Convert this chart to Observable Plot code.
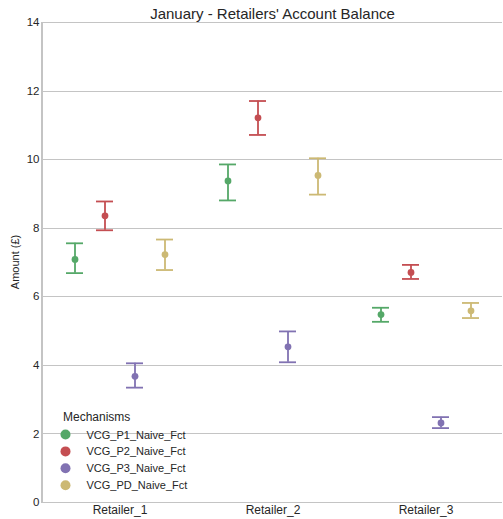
<!DOCTYPE html>
<html><head><meta charset="utf-8">
<script src="https://cdn.jsdelivr.net/npm/d3@7"></script>
<script src="https://cdn.jsdelivr.net/npm/@observablehq/plot@0.6"></script>
<style>
html,body{margin:0;padding:0;background:#fff;}
#wrap{position:relative;width:503px;height:519px;font-family:"Liberation Sans",Arial,sans-serif;}
</style></head>
<body><div id="wrap"></div>
<script>
// ---- data ----
const retailers = ["Retailer_1", "Retailer_2", "Retailer_3"];
const mechanisms = ["VCG_P1_Naive_Fct", "VCG_P2_Naive_Fct", "VCG_P3_Naive_Fct", "VCG_PD_Naive_Fct"];
const colors = ["#55a868", "#c44e52", "#8172b2", "#ccb974"];
// values per mechanism, in retailer order
const meanP1 = [7.09, 9.38, 5.48];
const meanP2 = [8.36, 11.22, 6.71];
const meanP3 = [3.68, 4.54, 2.32];
const meanPD = [7.23, 9.54, 5.59];
const lowP1 = [6.69, 8.81, 5.27];
const lowP2 = [7.94, 10.72, 6.52];
const lowP3 = [3.35, 4.09, 2.17];
const lowPD = [6.78, 8.98, 5.38];
const highP1 = [7.56, 9.86, 5.68];
const highP2 = [8.78, 11.71, 6.93];
const highP3 = [4.06, 4.99, 2.49];
const highPD = [7.67, 10.04, 5.82];
const yTicks = [0, 2, 4, 6, 8, 10, 12, 14];
const title = "January - Retailers' Account Balance";
const yLabel = "Amount (£)";
const legendTitle = "Mechanisms";

const means = [meanP1, meanP2, meanP3, meanPD];
const lows = [lowP1, lowP2, lowP3, lowPD];
const highs = [highP1, highP2, highP3, highPD];
const rows = [];
retailers.forEach((r, ri) => mechanisms.forEach((m, mi) => rows.push({
  retailer: r, mechanism: m, mean: means[mi][ri], low: lows[mi][ri], high: highs[mi][ri]
})));

const font = '"Liberation Sans", Arial, sans-serif';
const grid = "#c4c4c4";
const txt = "#262626";

const chart = Plot.plot({
  width: 503, height: 519,
  marginLeft: 42, marginRight: 0, marginTop: 22, marginBottom: 17,
  style: {fontFamily: font, fontSize: "11.5px", color: txt, background: "transparent", overflow: "visible"},
  fx: {domain: retailers, padding: 0, label: null},
  x: {domain: mechanisms, type: "band", paddingInner: 0.447, paddingOuter: 0.7235, axis: null},
  y: {domain: [0, 14], label: null},
  color: {domain: mechanisms, range: colors},
  marks: [
    Plot.ruleY(yTicks, {stroke: grid, strokeWidth: 1, shapeRendering: "crispEdges"}),
    Plot.axisY(yTicks, {tickSize: 0, tickPadding: 4, label: null, fill: txt, fontSize: 11.5}),
    Plot.axisFx({anchor: "bottom", tickSize: 0, tickPadding: 3, label: null, fill: txt, fontSize: 12}),
    Plot.ruleX(rows, {fx: "retailer", x: "mechanism", y1: "low", y2: "high", stroke: "mechanism", strokeWidth: 1.8}),
    Plot.tickY(rows, {fx: "retailer", x: "mechanism", y: "low", stroke: "mechanism", strokeWidth: 1.8}),
    Plot.tickY(rows, {fx: "retailer", x: "mechanism", y: "high", stroke: "mechanism", strokeWidth: 1.8}),
    Plot.dot(rows, {fx: "retailer", x: "mechanism", y: "mean", fill: "mechanism", r: 3.4})
  ]
});
document.getElementById("wrap").appendChild(chart);

const svg = d3.select(chart);
// left spine along the y scale's full range
const yScale = chart.scale("y");
svg.insert("line", ":first-child")
  .attr("x1", 42).attr("x2", 42)
  .attr("y1", yScale.apply(yTicks[0]) + 1).attr("y2", yScale.apply(yTicks[yTicks.length - 1]))
  .attr("stroke", grid).attr("stroke-width", 2).attr("shape-rendering", "crispEdges");

svg.append("text").attr("x", 272.5).attr("y", 19).attr("text-anchor", "middle")
  .attr("font-family", font).attr("font-size", 15).attr("fill", txt).text(title);
svg.append("text").attr("transform", "translate(19,262) rotate(-90)").attr("text-anchor", "middle")
  .attr("font-family", font).attr("font-size", 11).attr("fill", txt).text(yLabel);
const lg = svg.append("g").attr("font-family", font).attr("fill", txt).attr("text-anchor", "start");
lg.append("text").attr("x", 63).attr("y", 421).attr("font-size", 12).attr("text-anchor", "start").text(legendTitle);
mechanisms.forEach((m, i) => {
  const cy = 434.5 + i * 16.9;
  lg.append("circle").attr("cx", 65.5).attr("cy", cy).attr("r", 5).attr("fill", colors[i]);
  lg.append("text").attr("x", 86.5).attr("y", cy + 4).attr("font-size", 11).attr("text-anchor", "start").text(m);
});
</script>
</body></html>
